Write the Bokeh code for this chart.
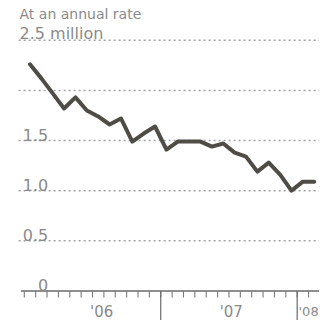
from bokeh.plotting import figure
from bokeh.models import Range1d, ColumnDataSource
from bokeh.core.properties import value
from bokeh.embed import file_html
from bokeh.resources import INLINE

# ---- data (housing starts, millions at an annual rate) ----
months = ["2006-01", "2006-02", "2006-03", "2006-04", "2006-05", "2006-06",
          "2006-07", "2006-08", "2006-09", "2006-10", "2006-11", "2006-12",
          "2007-01", "2007-02", "2007-03", "2007-04", "2007-05", "2007-06",
          "2007-07", "2007-08", "2007-09", "2007-10", "2007-11", "2007-12",
          "2008-01", "2008-02"]
starts = [2.26, 2.12, 1.97, 1.82, 1.93, 1.80, 1.74, 1.66, 1.72, 1.49, 1.57, 1.64,
          1.41, 1.49, 1.49, 1.49, 1.44, 1.47, 1.38, 1.34, 1.19, 1.28, 1.16, 1.00,
          1.09, 1.09]
y_ticks = [0, 0.5, 1.0, 1.5, 2.0, 2.5]
y_labels = ["0", "0.5", "1.0", "1.5", "", "2.5 million"]
year_labels = ["'06", "'07", "'08"]
year_label_pos = [6.8, 18.2, 24.12]   # months from Jan 2006
year_label_align = ["center", "center", "left"]
year_label_size = ["15px", "15px", "13px"]
subtitle = "At an annual rate"

# month index (0 = start of Jan 2006), points at mid-month
x_pts = [i + 0.5 for i in range(len(months))]

FONT = value("DejaVu Sans")
TXT = "#8a8a8a"
FS = "16px"

p = figure(width=319, height=320, output_backend="svg", toolbar_location=None,
           x_range=Range1d(-25 / 11.94, (335 - 25) / 11.94),
           y_range=Range1d((305 - 336) / 105.3, 305 / 105.3),
           min_border=0, min_border_left=0, min_border_right=0,
           min_border_top=0, min_border_bottom=0)
p.axis.visible = False
p.grid.visible = False
p.outline_line_color = None
p.background_fill_color = "white"
p.border_fill_color = "white"

X_END = 30

# dotted gridlines
grid_v = [v for v in y_ticks if v > 0]
p.segment(x0=[-0.5] * len(grid_v), x1=[X_END] * len(grid_v), y0=grid_v, y1=grid_v,
          line_color="#a3a3a3", line_width=1.5, line_dash="2 3")

# zero axis line
p.segment(x0=[-0.3], x1=[X_END], y0=[0], y1=[0], line_color="#6a6a6a", line_width=1.5)

# month ticks
tick_x = list(range(0, len(months) + 1))
p.segment(x0=tick_x, x1=tick_x, y0=[0] * len(tick_x), y1=[-0.066] * len(tick_x),
          line_color="#7a7a7a", line_width=1.1)

# year separators
year_x = [i for i, m in enumerate(months) if m.endswith("-01") and i > 0]
p.segment(x0=year_x, x1=year_x, y0=[0] * len(year_x), y1=[-0.4] * len(year_x),
          line_color="#6a6a6a", line_width=1.2)

# data line
p.line(x_pts, starts, line_color="#4f4c46", line_width=4, line_join="round", line_cap="round")

# y labels
num_idx = [i for i, l in enumerate(y_labels) if l and "million" not in l]
src_num = ColumnDataSource(dict(x=[2.1] * len(num_idx),
                                y=[y_ticks[i] + 0.058 for i in num_idx],
                                t=[y_labels[i] for i in num_idx]))
p.text(x="x", y="y", text="t", source=src_num, text_font=FONT, text_font_size=FS,
       text_color=TXT, text_align="right", text_baseline="alphabetic")
top_idx = [i for i, l in enumerate(y_labels) if "million" in l]
src_top = ColumnDataSource(dict(x=[-0.42] * len(top_idx),
                                y=[y_ticks[i] + 0.065 for i in top_idx],
                                t=[y_labels[i] for i in top_idx]))
p.text(x="x", y="y", text="t", source=src_top, text_font=FONT, text_font_size=FS,
       text_color=TXT, text_align="left", text_baseline="alphabetic")

# subtitle at the very top
p.text(x=[-0.42], y=[2.762], text=[subtitle], text_font=FONT, text_font_size="14px",
       text_color=TXT, text_align="left", text_baseline="alphabetic")

# year labels
src_yr = ColumnDataSource(dict(x=year_label_pos, y=[-0.206] * len(year_labels),
                               t=year_labels, a=year_label_align, s=year_label_size))
p.text(x="x", y="y", text="t", source=src_yr, text_font=FONT, text_font_size="s",
       text_color=TXT, text_align="a", text_baseline="alphabetic")

open("out.html", "w").write(file_html(p, INLINE))
